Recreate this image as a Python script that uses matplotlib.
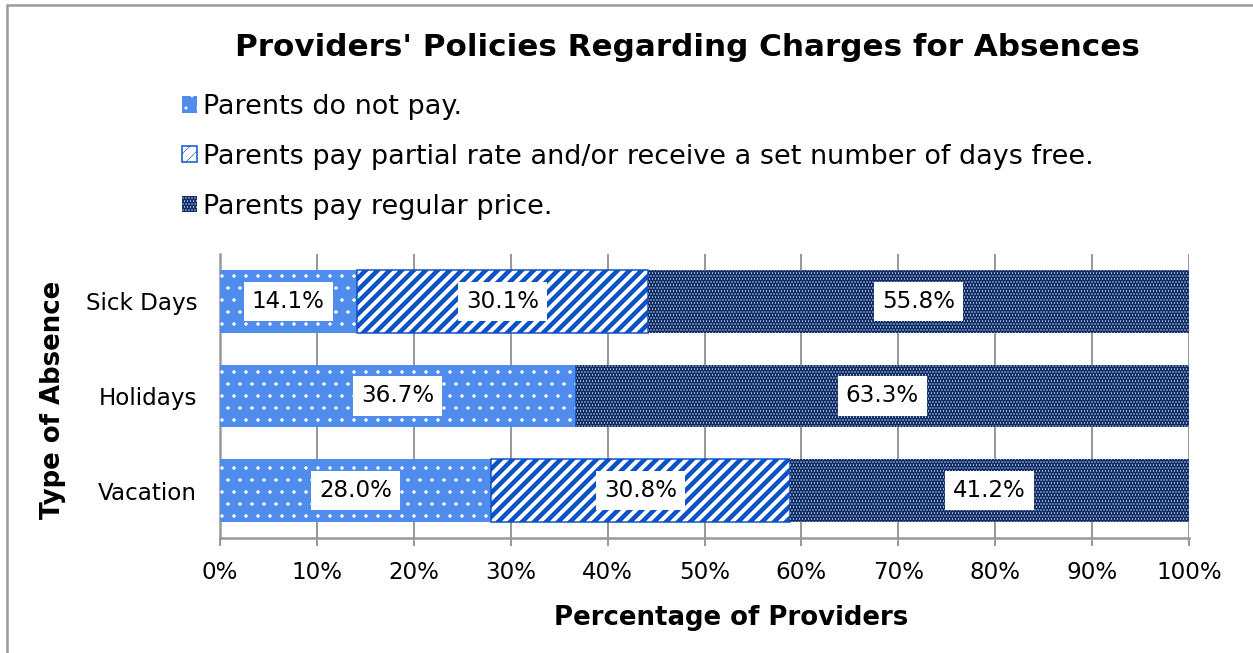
import matplotlib
matplotlib.use("Agg")
import matplotlib.pyplot as plt
from matplotlib.patches import Patch, Rectangle
import numpy as np

categories = ["Vacation", "Holidays", "Sick Days"]
series_names = [
    "Parents do not pay.",
    "Parents pay partial rate and/or receive a set number of days free.",
    "Parents pay regular price.",
]
not_pay = [28.0, 36.7, 14.1]
partial = [30.8, 0.0, 30.1]
regular = [41.2, 63.3, 55.8]
xticks = [0, 10, 20, 30, 40, 50, 60, 70, 80, 90, 100]

W, H, DPI = 1253, 653, 72
plt.rcParams["font.family"] = ["DejaVu Sans"]
fig = plt.figure(figsize=(W / DPI, H / DPI), dpi=DPI)
fig.patch.set_facecolor("white")

# outer frame
fig.patches.append(Rectangle((7 / W, -0.1), 1.2, 1 - 5 / H + 0.1, transform=fig.transFigure,
                             fill=False, edgecolor="#9a9a9a", lw=2.5))

ax = fig.add_axes([220 / W, 1 - 538 / H, (1189 - 220) / W, (538 - 254) / H])

y = np.arange(len(categories))
bh = 0.66
c1, c2, c3 = "#4F8CEB", "#0A50C8", "#0E2D69"

styles = [
    dict(facecolor=c1, edgecolor="white", linewidth=0, hatch="."),
    dict(facecolor="white", edgecolor=c2, linewidth=1.5, hatch="//"),
    dict(facecolor=c3, edgecolor="white", linewidth=0, hatch="...."),
]
hatch_lw = [1.0, 4.5, 0.6]


def set_hlw(p, lw):
    if hasattr(p, "set_hatch_linewidth"):
        p.set_hatch_linewidth(lw)


left = np.zeros(len(categories))
for vals, st, hl in zip([not_pay, partial, regular], styles, hatch_lw):
    plt.rcParams["hatch.linewidth"] = hl
    vals = np.array(vals)
    bars = ax.barh(y, vals, left=left, height=bh, zorder=3, **st)
    for b in bars:
        set_hlw(b, hl)
    for i, v in enumerate(vals):
        if v > 0:
            ax.text(left[i] + v / 2, y[i], f"{v:.1f}%", ha="center", va="center",
                    fontsize=23, color="black", zorder=5,
                    bbox=dict(boxstyle="square,pad=0.35", facecolor="white", edgecolor="none"))
    left = left + vals

ax.set_xlim(0, 100)
ax.set_ylim(-0.5, 2.5)
ax.set_xticks(xticks)
ax.set_xticklabels([f"{t}%" for t in xticks], fontsize=23)
ax.set_yticks(y)
ax.set_yticklabels(categories, fontsize=23)
ax.tick_params(axis="x", length=8, width=2, color="#999999", pad=15)
ax.tick_params(axis="y", length=0, pad=23)
ax.grid(axis="x", color="#999999", lw=2, zorder=1)
for s in ["top", "right"]:
    ax.spines[s].set_visible(False)
for s in ["left", "bottom"]:
    ax.spines[s].set_color("#999999")
    ax.spines[s].set_linewidth(2.5)

fig.text(687 / W, 1 - 47 / H, "Providers' Policies Regarding Charges for Absences",
         ha="center", va="center", fontsize=31, fontweight="bold")
fig.text(731 / W, 1 - 618 / H, "Percentage of Providers", ha="center", va="center",
         fontsize=26, fontweight="bold")
fig.text(53 / W, 1 - 400 / H, "Type of Absence", ha="center", va="center",
         fontsize=26, fontweight="bold", rotation=90)

handles = []
for st, hl in zip(styles, hatch_lw):
    plt.rcParams["hatch.linewidth"] = min(hl, 1.5)
    p = Patch(**st)
    set_hlw(p, min(hl, 1.5))
    handles.append(p)
leg = fig.legend(handles, series_names, loc="upper left", bbox_to_anchor=(182 / W, 1 - 94 / H),
                 frameon=False, fontsize=27, handlelength=0.56, handleheight=0.56,
                 handletextpad=0.2, labelspacing=0.88, borderaxespad=0, borderpad=0)

fig.savefig("out.png", dpi=DPI)
